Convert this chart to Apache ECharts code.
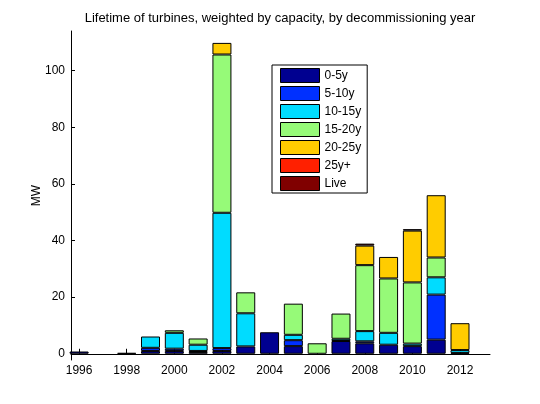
<!DOCTYPE html>
<html>
<head>
<meta charset="utf-8">
<script src="https://cdn.jsdelivr.net/npm/echarts@6/dist/echarts.min.js"></script>
<style>
  html, body { margin: 0; padding: 0; background: #fff; }
  #box { width: 540px; height: 404px; }
</style>
</head>
<body>
<div id="box"></div>
<script>
// decommissioning years
const aYears = [1996, 1997, 1998, 1999, 2000, 2001, 2002, 2003, 2004, 2005, 2006, 2007, 2008, 2009, 2010, 2011, 2012];

// MW per lifetime bucket, one value per year
const a0to5   = [0.8, 0, 0.3, 1.0, 1.0, 0.6, 1.0, 2.6, 7.6, 2.7, 0,   4.5, 3.7, 3.2, 2.7, 5.0, 0.3];
const a5to10  = [0,   0, 0,   1.1, 0.8, 0.4, 1.0, 0,   0,   2.1, 0,   0,   0.7, 0,   0,   15.9, 0];
const a10to15 = [0,   0, 0,   4.0, 5.6, 2.2, 47.8, 11.7, 0, 1.9, 0,   0.8, 3.6, 4.2, 0.9, 6.1, 1.0];
const a15to20 = [0,   0, 0,   0,   0.9, 2.2, 55.9, 7.4, 0,  11.0, 3.7, 8.9, 23.3, 19.2, 21.6, 7.0, 0];
const a20to25 = [0,   0, 0,   0,   0,   0,   4.1, 0,   0,   0,   0,   0,   6.9, 7.6, 18.3, 22.0, 9.5];
const a25plus = [0,   0, 0,   0,   0,   0,   0,   0,   0,   0,   0,   0,   0,   0,   0,   0,   0];
const aLive   = [0,   0, 0,   0,   0,   0,   0,   0,   0,   0,   0,   0,   0.7, 0,   0.5, 0,   0];

const aNames = ['0-5y', '5-10y', '10-15y', '15-20y', '20-25y', '25y+', 'Live'];
const aValues = [a0to5, a5to10, a10to15, a15to20, a20to25, a25plus, aLive];
const aColors = ['#000090', '#0030ff', '#00dcff', '#96fa78', '#ffcc00', '#ff2000', '#800000'];

const aXTicks = [1996, 1998, 2000, 2002, 2004, 2006, 2008, 2010, 2012];
const aYTicks = [0, 20, 40, 60, 80, 100];

const sFont = '"Liberation Sans", Arial, sans-serif';

const myChart = echarts.init(document.getElementById('box'));

const aSeries = aNames.map((name, i) => {
    const oOne = {
        name,
        type: 'bar',
        stack: 'total',
        barWidth: 19,
        itemStyle: { color: aColors[i], borderColor: '#000', borderWidth: 1 },
        emphasis: { disabled: true },
        // value first so it is the dimension that gets stacked
        encode: { x: 1, y: 0 },
        // empty segments are left out, no extra outline
        data: aYears.map((y, k) => [aValues[i][k] || '-', y]),
    };
    // MATLAB-style baseline at y = 0
    if (i === 0) {
        oOne.markLine = {
            silent: true,
            symbol: 'none',
            label: { show: false },
            lineStyle: { color: '#000', width: 1, type: 'solid' },
            data: [{ yAxis: 0 }],
        };
    }
    return oOne;
});

const option = {
    animation: false,
    textStyle: { fontFamily: sFont },
    title: {
        text: 'Lifetime of turbines, weighted by capacity, by decommissioning year',
        left: 275,
        top: 7,
        textAlign: 'center',
        textStyle: { fontFamily: sFont, fontSize: 13, fontWeight: 'normal', color: '#000' },
    },
    legend: {
        orient: 'vertical',
        left: 272,
        top: 65,
        padding: [3, 6, 2, 8],
        itemWidth: 39,
        itemHeight: 14,
        itemGap: 3,
        icon: 'rect',
        borderColor: '#000',
        borderWidth: 1,
        backgroundColor: '#fff',
        itemStyle: { borderColor: '#000', borderWidth: 1 },
        textStyle: { fontFamily: sFont, fontSize: 12, color: '#000' },
        data: aNames,
    },
    grid: { left: 71, right: 50, top: 31, bottom: 44 },
    xAxis: {
        type: 'value',
        min: 1995.66,
        max: 2013.26,
        axisLine: { lineStyle: { color: '#000' } },
        axisTick: { inside: true, length: 5, customValues: aXTicks, lineStyle: { color: '#000' } },
        axisLabel: {
            customValues: aXTicks, color: '#000', fontSize: 12, margin: 5, fontFamily: sFont,
            formatter: v => String(v),
        },
        splitLine: { show: false },
    },
    yAxis: {
        type: 'value',
        min: -2.2,
        max: 114,
        name: 'MW',
        nameLocation: 'middle',
        nameGap: 28,
        nameRotate: 90,
        nameMoveOverlap: false,
        nameTextStyle: { color: '#000', fontSize: 12, fontFamily: sFont },
        axisLine: { show: true, lineStyle: { color: '#000' } },
        axisTick: { show: true, inside: true, length: 4, customValues: aYTicks, lineStyle: { color: '#000' } },
        axisLabel: { customValues: aYTicks, color: '#000', fontSize: 12, margin: 6, fontFamily: sFont },
        splitLine: { show: false },
    },
    series: aSeries,
};

myChart.setOption(option);
</script>
</body>
</html>
